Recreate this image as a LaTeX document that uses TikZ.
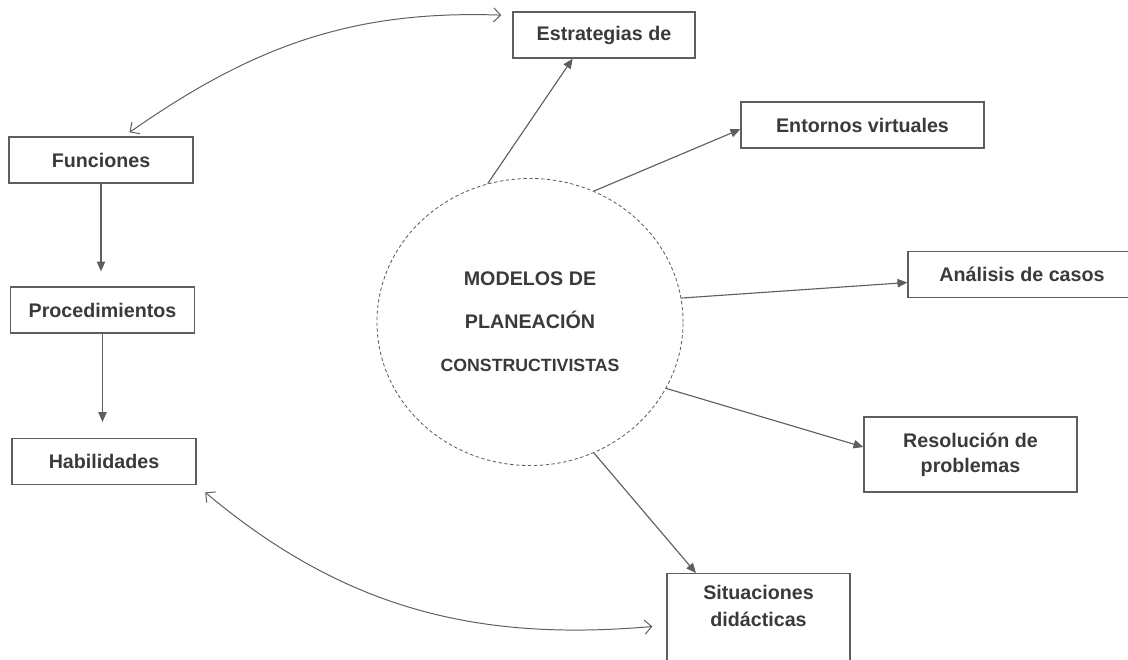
\documentclass[tikz,border=0pt]{standalone}
\usepackage{fontspec}
\setmainfont{Liberation Sans}
\usetikzlibrary{arrows.meta,shapes.geometric}

\definecolor{linegray}{HTML}{5E5E5E}
\definecolor{textgray}{HTML}{3A3A3A}

\begin{document}
\begin{tikzpicture}[x=0.025cm, y=0.025cm,
	box/.style={rectangle, draw=linegray, line width=0.9pt, minimum width=4.6cm, minimum height=1.15cm, inner sep=2pt, align=center, text=textgray, font=\bfseries\fontsize{14}{17.8}\selectfont},
	hub/.style={ellipse, draw=linegray, line width=0.6pt, dash pattern=on 2.4pt off 1.8pt, minimum width=7.65cm, minimum height=7.175cm, inner sep=0pt, align=center, text=textgray, font=\bfseries\fontsize{14}{30.5}\selectfont},
	arr/.style={color=linegray, line width=0.8pt, -{Triangle[length=7pt,width=6pt]}},
	dbl/.style={color=linegray, line width=0.7pt, {Straight Barb[length=5pt,width=10pt]}-{Straight Barb[length=5pt,width=10pt]}}]

		\useasboundingbox (0,0) rectangle (1128,-659);

		\node[hub] (mod) at (530,-322) {MODELOS DE\\PLANEACIÓN\\\fontsize{12.6}{30.5}\selectfont CONSTRUCTIVISTAS};

		\node[box, minimum width=4.55cm] (estr) at (604,-35) {Estrategias de};
		\node[box, minimum width=6.075cm] (ent) at (862.5,-125) {Entornos virtuales};
		\node[box, minimum width=5.7cm] (ana) at (1022,-274.5) {Análisis de casos};
		\node[box, minimum width=5.325cm, minimum height=1.875cm] (res) at (970.5,-454.5) {Resolución de\\problemas};
		\node[box, minimum width=4.575cm, minimum height=2.5cm, anchor=north,
			label={[text=textgray, font=\bfseries\fontsize{14}{19}\selectfont, align=center, anchor=north, inner sep=0pt, yshift=-0.3cm]north:Situaciones\\didácticas}] (sit) at (758.5,-573) {};

		\node[box] (fun) at (101,-160) {Funciones};
		\node[box] (proc) at (102.5,-310) {Procedimientos};
		\node[box] (hab) at (104,-461.5) {Habilidades};

		\path[arr]
		(mod.107) edge (estr.217)
		(mod.64) edge (ent.182)
		(mod.9) edge (ana.184)
		(mod.-26) edge (res.176)
		(mod.296) edge (sit.141);

		\draw[arr, shorten >=0.375cm] (fun.south) -- (fun.south |- proc.north);
		\draw[arr, shorten >=0.4cm] (proc.south) -- (proc.south |- hab.north);

		\draw[dbl, shorten <=0.175cm, shorten >=0.275cm] (fun.46) to[out=35, in=178] (estr.168);
		\draw[dbl, shorten <=0.28cm, shorten >=0.35cm] (hab.south east) to[out=-40, in=185] (sit.181);

\end{tikzpicture}
\end{document}
